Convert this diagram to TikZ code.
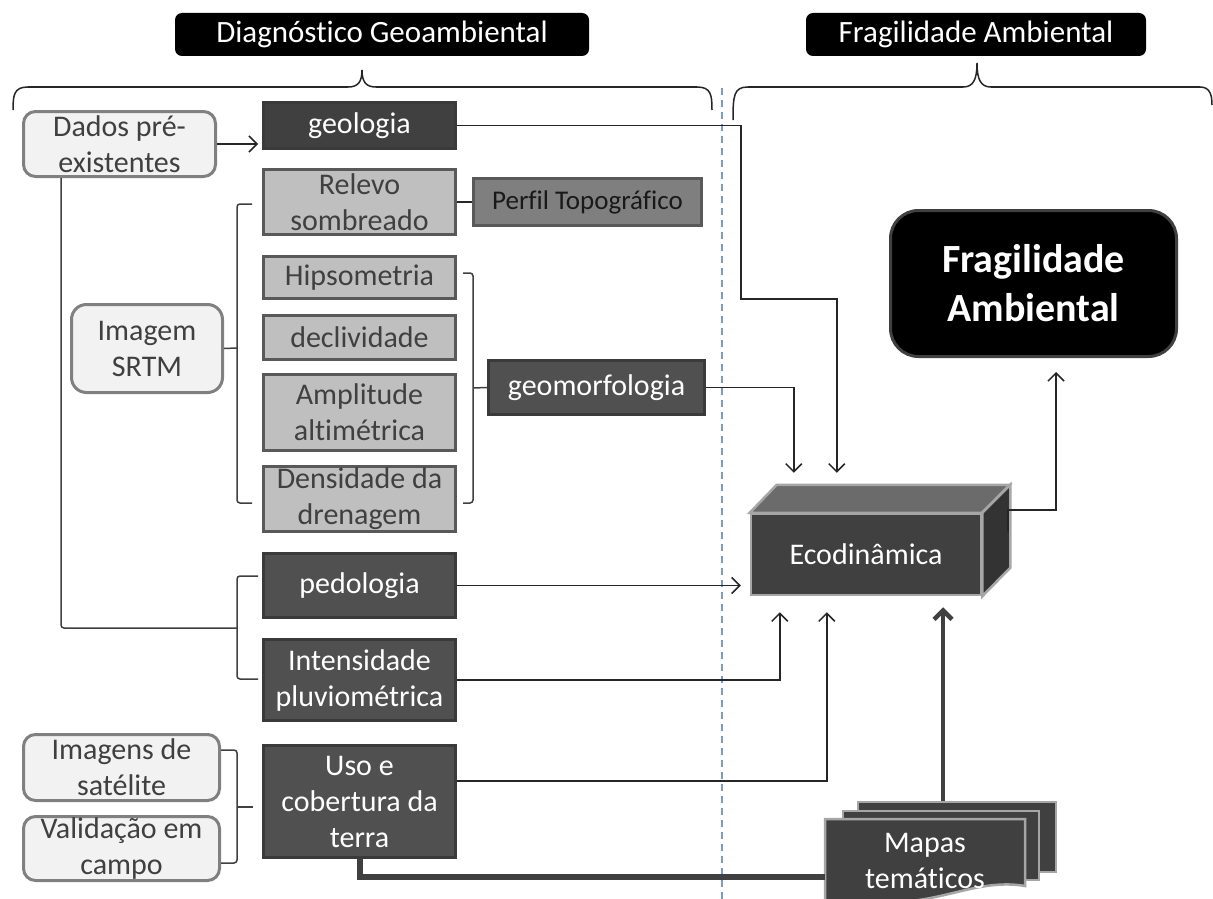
\documentclass[tikz,border=0pt]{standalone}
\usepackage{fontspec}
\setmainfont{Carlito}[Ligatures=NoCommon]
\usetikzlibrary{arrows.meta,calc}
\pgfdeclarelayer{background}
\pgfsetlayers{background,main}
\definecolor{dk}{HTML}{505050}
\definecolor{dkgeo}{HTML}{404040}
\definecolor{dkb}{HTML}{3A3A3A}
\definecolor{lg}{HTML}{BFBFBF}
\definecolor{lgb}{HTML}{595959}
\definecolor{md}{HTML}{7F7F7F}
\definecolor{pale}{HTML}{F2F2F2}
\definecolor{paleb}{HTML}{808080}
\definecolor{txtd}{HTML}{404040}
\definecolor{cube}{HTML}{404040}
\definecolor{cubetop}{HTML}{6B6B6B}
\definecolor{cuberight}{HTML}{333333}
\definecolor{cubeb}{HTML}{A6A6A6}
\definecolor{dashc}{HTML}{7A9CC0}
\definecolor{ln}{HTML}{262626}
\begin{document}
\begin{tikzpicture}[x=1pt,y=-1pt,
  fs/.style={font=\fontsize{30}{36}\selectfont},
  darkbox/.style={draw=dkb, fill=dk, line width=3pt, text=white, inner sep=0pt, align=center, fs},
  lightbox/.style={draw=lgb, fill=lg, line width=3pt, text=txtd, inner sep=0pt, align=center, fs},
  palebox/.style={draw=paleb, fill=pale, line width=3pt, rounded corners=12pt, text=txtd, inner sep=0pt, align=center, fs},
  header/.style={fill=black, rounded corners=7pt, text=white, inner sep=0pt, font=\fontsize{31}{37}\selectfont},
  conn/.style={draw=ln, line width=1.5pt},
  arr/.style={conn, -{Straight Barb[length=8pt,width=16pt]}},
  brk/.style={draw=txtd, line width=1.5pt, rounded corners=3pt},
  brace/.style={draw=ln, line width=1.5pt},
  spine/.style={draw=txtd, line width=6pt},
  sheet/.style={draw=cubeb, fill=cube, line width=2.5pt, inner sep=0pt}
]
\useasboundingbox[fill=white] (0,0) rectangle (1213,899);

% headers
\node[header, minimum width=414pt, minimum height=43pt] (hdg) at (382,34.5) {Diagnóstico Geoambiental};
\node[header, minimum width=340pt, minimum height=43pt] (hfa) at (976,34.5) {Fragilidade Ambiental};
\draw[brace] (13,110) .. controls (13,95) and (14,87) .. (28,87) -- (348,87)
  .. controls (358,87) and (362,82) .. (362,70)
  .. controls (362,82) and (366,87) .. (376,87) -- (697,87)
  .. controls (711,87) and (712,95) .. (712,110);
\draw[brace] (733,120) .. controls (733,95) and (734,87) .. (748,87) -- (963,87)
  .. controls (973,87) and (977,80) .. (977,63)
  .. controls (977,80) and (981,87) .. (991,87) -- (1200,87)
  .. controls (1210,87) and (1212,95) .. (1212,105);

% dashed separator
\draw[dashc, line width=1.5pt, dash pattern=on 7pt off 5pt] (722,88) -- (722,899);

% main column
\node[darkbox, fill=dkgeo, minimum width=192pt, minimum height=46pt] (geo) at (359.5,125.5) {geologia};
\node[lightbox, minimum width=192pt, minimum height=65pt] (rel) at (359.5,202) {Relevo\\sombreado};
\node[lightbox, minimum width=192pt, minimum height=42pt] (hip) at (359.5,277.5) {Hipsometria};
\node[lightbox, minimum width=192pt, minimum height=44pt] (dec) at (359.5,337.5) {declividade};
\node[lightbox, minimum width=192pt, minimum height=76pt] (amp) at (359.5,412.5) {Amplitude\\altimétrica};
\node[lightbox, minimum width=192pt, minimum height=65pt] (den) at (359.5,499) {Densidade da\\drenagem};
\node[darkbox, minimum width=192pt, minimum height=64pt] (ped) at (359.5,585.5) {pedologia};
\node[darkbox, minimum width=192pt, minimum height=81pt] (int) at (359.5,680) {Intensidade\\pluviométrica};
\node[darkbox, minimum width=192pt, minimum height=112pt] (uso) at (359.5,801.5) {Uso e\\cobertura da\\terra};

\node[draw=lgb, fill=md, line width=3pt, inner sep=0pt, minimum width=228pt, minimum height=47pt, text=black!90, font=\fontsize{27}{32}\selectfont] (per) at (587.5,202) {Perfil Topográfico};
\node[darkbox, minimum width=216pt, minimum height=54pt] (geom) at (596.5,387.5) {geomorfologia};

% left inputs
\node[palebox, minimum width=192pt, minimum height=65pt] (dad) at (119.5,144) {Dados pré-\\existentes};
\node[palebox, rounded corners=15pt, minimum width=151pt, minimum height=88pt] (srtm) at (147,348.5) {Imagem\\SRTM};
\node[palebox, minimum width=196pt, minimum height=66pt] (sat) at (121.5,767.5) {Imagens de\\satélite};
\node[palebox, minimum width=196pt, minimum height=64pt] (val) at (121.5,848.5) {Validação em\\campo};

% spine behind boxes
\begin{pgfonlayer}{background}
\draw[spine] (geo.center) -- (uso.center);
\end{pgfonlayer}

% Ecodinamica cube
\node[fill=cube, draw=cubeb, line width=2.5pt, minimum width=230pt, minimum height=81pt, inner sep=0pt, text=white, fs] (eco) at (866,554.5) {Ecodinâmica};
\filldraw[fill=cubetop, draw=cubeb, line width=2.5pt] (eco.north west) -- ++(27,-28) -- ++(233,0) -- ($(eco.north east)$) -- cycle;
\filldraw[fill=cuberight, draw=cubeb, line width=2.5pt] (eco.north east) -- ++(28,-28) -- ++(0,83) -- (eco.south east) -- cycle;

% Fragilidade Ambiental
\node[fill=black, draw=txtd, line width=3pt, rounded corners=28pt, minimum width=286pt, minimum height=146pt, inner sep=0pt, text=white, align=center, font=\fontsize{40}{49}\selectfont\bfseries] (fa) at (1033.5,283.5) {Fragilidade\\Ambiental};

% Mapas tematicos
\node[sheet, minimum width=198pt, minimum height=70pt] (mapback) at (957,837) {};
\node[sheet, minimum width=196pt, minimum height=69pt] (mapmid) at (941,845.5) {};
\filldraw[fill=cube, draw=cubeb, line width=2.5pt] (825,819) -- (1025,819) -- (1025,886)
  .. controls (990,880) and (960,893) .. (925,899) .. controls (890,905) and (850,906) .. (825,906) -- cycle;
\node[text=white, fs, align=center, inner sep=0pt] (map) at (925,861) {Mapas\\temáticos};
\coordinate (mapL) at (825,877);

% spine to maps
\draw[spine] (uso.south) -- (uso.south |- mapL) -- (mapL);
\draw[draw=txtd, line width=4.5pt, -{Straight Barb[length=9pt,width=18pt]}, shorten >=11pt] ($(mapback.north)+(-14,0)$) -- ($(eco.south)+(77,0)$);

% connectors
\draw[conn] (rel.east) -- (per.west);
\draw[arr, shorten >=4pt] (dad.east) -- (dad.east -| geo.west);
\draw[brk] ($(dad.south west)+(39,0)$) |- (237,628);
\draw[brk] (252,204) -- (237,204) -- (237,503) -- (252,503);
\draw[brk] (srtm.east) -- (237,348);
\draw[brk] (258,576) -- (237,576) -- (237,679) -- (258,679);
\draw[brk] (463,273) -- (473,273) -- (473,503) -- (463,503);
\draw[brk] (473,388) -- (geom.west);
\draw[brk] (sat.east |- 0,750) -- (237,750) -- (237,863) -- (val.east |- 0,863);
\draw[brk] (237,807) -- (253,807);

\coordinate (g1) at (741,299);
\draw[arr, shorten >=40pt] (geo.east) -| (g1) -| ($(eco.north west)+(87,0)$);
\draw[arr, shorten >=40pt] (geom.east) -| ($(eco.north west)+(44,0)$);
\draw[arr, shorten >=9pt] (ped.east) -- (ped.east -| eco.west);
\draw[arr, shorten >=16pt] (int.east) -| ($(eco.south west)+(30,0)$);
\draw[arr, shorten >=16pt] (uso.east |- 0,781) -| ($(eco.south west)+(77,0)$);
\coordinate (e1) at (1008,532);
\draw[arr, shorten >=14pt] (e1) |- (1056,510) -- ($(fa.south)+(22.5,0)$);
\end{tikzpicture}
\end{document}
